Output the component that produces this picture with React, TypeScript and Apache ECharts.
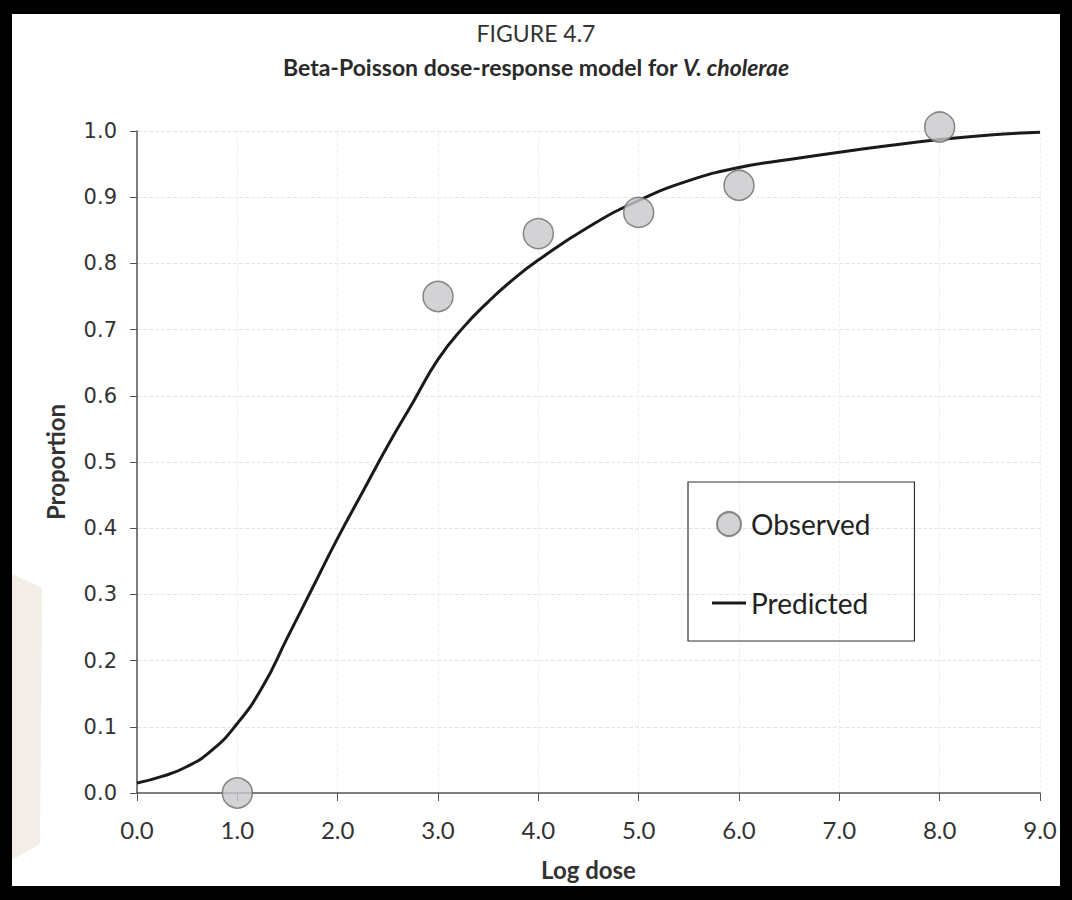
import React, { useEffect, useRef } from "react";
import * as echarts from "echarts";

const observedDose = [1.0, 3.0, 4.0, 5.0, 6.0, 8.0];
const observedProp = [0.0, 0.75, 0.845, 0.877, 0.918, 1.006];

const predictedDose = [0, 0.25, 0.5, 0.75, 1.0, 1.25, 1.5, 1.75, 2.0, 2.25, 2.5, 2.75, 3.0, 3.25, 3.5, 3.75, 4.0, 4.5, 5.0, 5.5, 6.0, 6.5, 7.0, 7.5, 8.0, 8.5, 9.0];
const predictedProp = [0.015, 0.025, 0.04, 0.065, 0.105, 0.16, 0.235, 0.31, 0.385, 0.455, 0.525, 0.59, 0.655, 0.703, 0.742, 0.776, 0.805, 0.855, 0.895, 0.925, 0.945, 0.957, 0.968, 0.978, 0.987, 0.994, 0.998];

const titleText = "FIGURE 4.7";
const subtitleText = "Beta-Poisson dose-response model for {i|V. cholerae}";
const xName = "Log dose";
const yName = "Proportion";

const NARROW = "Lato, 'Open Sans', sans-serif";

export default function App() {
  const ref = useRef<HTMLDivElement>(null);
  useEffect(() => {
    if (!ref.current) return;
    const chart = echarts.init(ref.current, undefined, { renderer: "svg" });
    chart.setOption({
      animation: false,
      backgroundColor: "#ffffff",
      title: [
        {
          text: titleText,
          left: "center",
          top: 2,
          textStyle: { fontFamily: NARROW, fontSize: 23, fontWeight: "normal", color: "#333" },
        },
        {
          text: subtitleText,
          left: "center",
          top: 36,
          textStyle: {
            fontFamily: NARROW,
            fontSize: 23,
            fontWeight: "bold",
            color: "#2a2a2a",
            rich: {
              i: { fontFamily: NARROW, fontSize: 23, fontWeight: "bold", fontStyle: "italic", color: "#2a2a2a" },
            },
          },
        },
      ],
      graphic: [
        {
          type: "polygon",
          silent: true,
          z: -10,
          shape: { points: [[0, 560], [30, 574], [28, 830], [0, 846]] },
          style: { fill: "#f2eee7" },
        },
      ],
      legend: {
        orient: "vertical",
        left: 676,
        top: 468,
        padding: [28, 44, 24, 24],
        itemGap: 51,
        itemWidth: 34,
        itemHeight: 24,
        borderColor: "#333",
        borderWidth: 1.2,
        textStyle: { fontFamily: NARROW, fontSize: 28, color: "#222" },
        data: [
          { name: "Observed", icon: "circle" },
          { name: "Predicted", icon: "path://M0,0 L34,0 L34,3 L0,3 Z", itemStyle: { color: "#1a1a1a" } },
        ],
      },
      grid: { left: 125, top: 117, right: 20, bottom: 89, containLabel: false },
      xAxis: {
        type: "value",
        min: 0,
        max: 9,
        interval: 1,
        name: xName,
        nameLocation: "middle",
        nameGap: 64,
        nameTextStyle: { fontFamily: NARROW, fontSize: 24, fontWeight: "bold", color: "#333" },
        axisLine: { lineStyle: { color: "#555", width: 1.5 } },
        axisTick: { show: true, length: 8, lineStyle: { color: "#555" } },
        axisLabel: {
          fontFamily: NARROW,
          fontSize: 24,
          color: "#333",
          margin: 24,
          formatter: (v: number) => v.toFixed(1),
        },
        splitLine: { show: true, lineStyle: { color: "#eeeeee", type: "dashed" } },
      },
      yAxis: {
        type: "value",
        min: 0,
        max: 1,
        interval: 0.1,
        name: yName,
        nameLocation: "middle",
        nameGap: 70,
        nameTextStyle: { fontFamily: NARROW, fontSize: 24, fontWeight: "bold", color: "#333" },
        axisLine: { show: true, lineStyle: { color: "#555", width: 1.5 } },
        axisTick: { show: true, length: 7, lineStyle: { color: "#555" } },
        axisLabel: {
          fontFamily: "'DejaVu Sans', sans-serif",
          fontSize: 21,
          color: "#333",
          margin: 20,
          formatter: (v: number) => v.toFixed(1),
        },
        splitLine: { show: true, lineStyle: { color: "#e6e6e6", type: "dashed" } },
      },
      series: [
        {
          name: "Predicted",
          type: "line",
          data: predictedDose.map((d, i) => [d, predictedProp[i]]),
          smooth: true,
          symbol: "none",
          lineStyle: { color: "#1a1a1a", width: 3 },
          itemStyle: { color: "#1a1a1a" },
          z: 2,
        },
        {
          name: "Observed",
          type: "scatter",
          data: observedDose.map((d, i) => [d, observedProp[i]]),
          symbol: "circle",
          symbolSize: 30,
          clip: false,
          itemStyle: { color: "#c8c8cc", borderColor: "#6d6d6d", borderWidth: 1.5 },
          z: 3,
        },
      ],
    });
    return () => chart.dispose();
  }, []);

  return (
    <div style={{ position: "fixed", left: 0, top: 0, width: 1072, height: 900, background: "#000" }}>
      <div
        ref={ref}
        style={{ position: "absolute", left: 12, top: 14, width: 1048, height: 872, background: "#fff" }}
      />
    </div>
  );
}
